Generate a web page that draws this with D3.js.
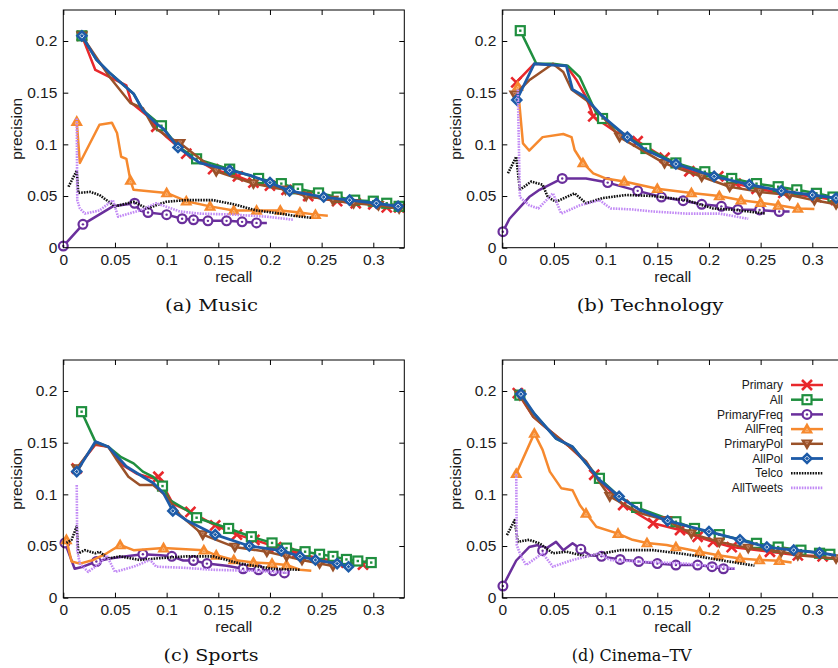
<!DOCTYPE html>
<html><head><meta charset="utf-8">
<script src="https://cdn.jsdelivr.net/npm/d3@7"></script>
<style>body{margin:0;background:#fff}svg{display:block}</style>
</head><body>
<svg id="chart" width="838" height="668"></svg>
<script>
// ---------- DATA ----------
const seriesNames = ["Primary","All","PrimaryFreq","AllFreq","PrimaryPol","AllPol","Telco","AllTweets"];
const xTicks = [0,0.05,0.1,0.15,0.2,0.25,0.3];
const yTicks = [0,0.05,0.1,0.15,0.2];
const xLabel = "recall", yLabel = "precision";
const captions = ["(a) Music","(b) Technology","(c) Sports","(d) Cinema–TV"];

// [recall, precision, marker?]
const musicPrimary = [[0.018,0.205,1],[0.031,0.172],[0.045,0.165],[0.061,0.157],[0.066,0.140],[0.081,0.128],[0.090,0.117,1],[0.100,0.107],[0.119,0.091,1],[0.145,0.076,1],[0.169,0.069,1],[0.184,0.063,1],[0.200,0.060,1],[0.216,0.056,1],[0.237,0.050,1],[0.265,0.045,1],[0.283,0.043,1],[0.300,0.042,1],[0.313,0.039,1],[0.325,0.039,1]];
const musicAll = [[0.018,0.205,1],[0.032,0.182],[0.045,0.169],[0.068,0.149],[0.077,0.133],[0.095,0.118,1],[0.111,0.098],[0.129,0.086,1],[0.161,0.076,1],[0.189,0.067,1],[0.211,0.062,1],[0.227,0.057,1],[0.247,0.053,1],[0.265,0.049,1],[0.282,0.046,1],[0.300,0.045,1],[0.313,0.043,1],[0.325,0.040,1]];
const musicPrimaryFreq = [[0,0.0016,1],[0.019,0.0226,1],[0.048,0.040],[0.069,0.043,1],[0.074,0.036],[0.082,0.034,1],[0.100,0.032,1],[0.115,0.028,1],[0.126,0.027,1],[0.140,0.026,1],[0.158,0.026,1],[0.173,0.025,1],[0.187,0.024,1],[0.197,0.024]];
const musicAllFreq = [[0.013,0.122,1],[0.016,0.082],[0.035,0.119],[0.047,0.121],[0.052,0.111],[0.056,0.088],[0.061,0.086],[0.065,0.065,1],[0.068,0.056],[0.100,0.053,1],[0.119,0.045,1],[0.142,0.040,1],[0.165,0.036,1],[0.187,0.036,1],[0.210,0.036,1],[0.229,0.034,1],[0.244,0.032,1],[0.256,0.031]];
const musicPrimaryPol = [[0.018,0.205,1],[0.045,0.165],[0.065,0.140],[0.077,0.135],[0.087,0.117],[0.100,0.108],[0.113,0.101,1],[0.148,0.074,1],[0.184,0.062,1],[0.215,0.056,1],[0.235,0.050,1],[0.261,0.046,1],[0.281,0.043,1],[0.305,0.041,1],[0.325,0.038,1]];
const musicAllPol = [[0.018,0.205,1],[0.032,0.182],[0.045,0.169],[0.068,0.149],[0.077,0.133],[0.090,0.120],[0.097,0.115],[0.111,0.097,1],[0.132,0.082],[0.161,0.075,1],[0.181,0.070],[0.200,0.063,1],[0.219,0.055,1],[0.252,0.049,1],[0.277,0.046,1],[0.303,0.043,1],[0.324,0.040,1]];
const musicTelco = [[0.005,0.059],[0.013,0.0745],[0.0145,0.053],[0.026,0.054],[0.035,0.051],[0.050,0.040],[0.068,0.0445],[0.081,0.038],[0.100,0.0445],[0.119,0.046],[0.145,0.046],[0.165,0.042],[0.187,0.036],[0.210,0.033],[0.229,0.030],[0.240,0.029]];
const musicAllTweets = [[0.013,0.125],[0.0135,0.046],[0.016,0.038],[0.021,0.033],[0.035,0.036],[0.048,0.046],[0.053,0.030],[0.074,0.036],[0.090,0.043],[0.113,0.035],[0.132,0.033],[0.165,0.032],[0.197,0.030],[0.223,0.027]];

const techPrimary = [[0.0135,0.160,1],[0.031,0.178],[0.062,0.176],[0.072,0.162],[0.081,0.146],[0.088,0.127,1],[0.110,0.112],[0.131,0.103,1],[0.157,0.087,1],[0.181,0.074,1],[0.209,0.069,1],[0.226,0.062,1],[0.246,0.057,1],[0.272,0.053,1],[0.304,0.049,1],[0.323,0.046,1]];
const techAll = [[0.0174,0.210,1],[0.033,0.178],[0.049,0.178],[0.0635,0.176],[0.075,0.165],[0.091,0.130],[0.097,0.125,1],[0.120,0.108],[0.139,0.096,1],[0.168,0.082,1],[0.196,0.0735,1],[0.222,0.067,1],[0.246,0.062,1],[0.267,0.059,1],[0.285,0.056,1],[0.304,0.0526,1],[0.320,0.049,1]];
const techPrimaryFreq = [[0.0006,0.0155,1],[0.007,0.028],[0.026,0.049],[0.036,0.056],[0.058,0.067,1],[0.081,0.067],[0.102,0.063,1],[0.131,0.055,1],[0.154,0.049,1],[0.175,0.0455,1],[0.193,0.042,1],[0.212,0.040,1],[0.228,0.037,1],[0.249,0.0365,1],[0.268,0.035,1],[0.278,0.035]];
const techAllFreq = [[0.015,0.156,1],[0.020,0.101],[0.026,0.094],[0.039,0.107],[0.059,0.110],[0.067,0.107],[0.070,0.0945],[0.078,0.082,1],[0.088,0.072],[0.100,0.067],[0.118,0.064,1],[0.150,0.057,1],[0.183,0.053,1],[0.210,0.050,1],[0.231,0.046,1],[0.250,0.0435,1],[0.267,0.041,1],[0.286,0.038,1],[0.302,0.0374]];
const techPrimaryPol = [[0.012,0.148,1],[0.026,0.162],[0.049,0.178],[0.059,0.170],[0.067,0.153],[0.081,0.143],[0.097,0.127],[0.1135,0.107,1],[0.157,0.0816,1],[0.193,0.0687,1],[0.220,0.059,1],[0.249,0.054,1],[0.278,0.051,1],[0.302,0.046,1],[0.323,0.042,1]];
const techAllPol = [[0.014,0.143,1],[0.031,0.178],[0.062,0.176],[0.068,0.153],[0.080,0.146],[0.096,0.128],[0.121,0.107,1],[0.139,0.0945],[0.168,0.081,1],[0.205,0.069,1],[0.239,0.061,1],[0.270,0.055,1],[0.300,0.051,1],[0.323,0.048,1]];
const techTelco = [[0.0055,0.072],[0.0135,0.088],[0.017,0.056],[0.028,0.064],[0.039,0.061],[0.044,0.049],[0.052,0.0445],[0.070,0.0526],[0.081,0.043],[0.097,0.048],[0.120,0.051],[0.146,0.050],[0.178,0.046],[0.204,0.038],[0.226,0.0365],[0.255,0.033]];
const techAllTweets = [[0.015,0.153],[0.017,0.049],[0.026,0.041],[0.035,0.038],[0.049,0.0526],[0.057,0.033],[0.075,0.041],[0.094,0.046],[0.105,0.038],[0.126,0.037],[0.146,0.035],[0.178,0.033],[0.210,0.033],[0.238,0.028]];

const sportsPrimary = [[0.013,0.125,1],[0.031,0.148],[0.0435,0.146],[0.058,0.128],[0.071,0.120],[0.087,0.1155],[0.092,0.117,1],[0.106,0.091],[0.123,0.083,1],[0.147,0.070,1],[0.168,0.061,1],[0.185,0.056,1],[0.206,0.049,1],[0.226,0.043,1],[0.248,0.038,1],[0.274,0.034,1],[0.290,0.032,1]];
const sportsAll = [[0.0177,0.180,1],[0.031,0.151],[0.0435,0.146],[0.056,0.136],[0.068,0.130],[0.077,0.122],[0.087,0.117],[0.096,0.108,1],[0.103,0.0945],[0.119,0.085],[0.129,0.0774,1],[0.145,0.072],[0.160,0.067,1],[0.182,0.059,1],[0.202,0.053,1],[0.216,0.048,1],[0.234,0.0445,1],[0.248,0.042,1],[0.261,0.040,1],[0.274,0.037,1],[0.285,0.0355,1],[0.298,0.034,1]];
const sportsPrimaryFreq = [[0.0016,0.053,1],[0.011,0.028],[0.019,0.030],[0.032,0.035,1],[0.045,0.038],[0.061,0.040],[0.077,0.042,1],[0.094,0.041],[0.105,0.040,1],[0.116,0.036],[0.126,0.036,1],[0.139,0.033,1],[0.158,0.031],[0.174,0.028,1],[0.189,0.027,1],[0.203,0.026,1],[0.214,0.024,1],[0.219,0.026]];
const sportsAllFreq = [[0.003,0.056,1],[0.008,0.035],[0.016,0.033],[0.029,0.0365],[0.042,0.043],[0.055,0.051,1],[0.068,0.046],[0.097,0.048,1],[0.136,0.046,1],[0.148,0.041,1],[0.165,0.0365,1],[0.184,0.034,1],[0.202,0.033,1],[0.216,0.0316,1],[0.229,0.027],[0.240,0.026]];
const sportsPrimaryPol = [[0.013,0.125,1],[0.031,0.149],[0.0435,0.146],[0.052,0.133],[0.063,0.117],[0.074,0.109],[0.087,0.109],[0.100,0.098],[0.113,0.080],[0.135,0.061,1],[0.166,0.049,1],[0.197,0.0445,1],[0.216,0.040,1],[0.231,0.0365,1],[0.248,0.033,1],[0.261,0.0306,1]];
const sportsAllPol = [[0.013,0.122,1],[0.031,0.151],[0.0435,0.146],[0.061,0.127],[0.077,0.117],[0.087,0.111],[0.097,0.101],[0.106,0.084,1],[0.119,0.075],[0.147,0.061,1],[0.180,0.050,1],[0.211,0.0455,1],[0.229,0.040,1],[0.244,0.0365,1],[0.265,0.033,1],[0.276,0.030,1]];
const sportsTelco = [[0.003,0.053],[0.008,0.056],[0.013,0.069],[0.0145,0.043],[0.021,0.046],[0.031,0.043],[0.035,0.0445],[0.0435,0.038],[0.055,0.040],[0.074,0.0365],[0.090,0.038],[0.119,0.040],[0.145,0.040],[0.171,0.033],[0.203,0.028],[0.229,0.027]];
const sportsAllTweets = [[0.013,0.109],[0.0135,0.046],[0.016,0.033],[0.024,0.025],[0.035,0.033],[0.042,0.041],[0.050,0.025],[0.068,0.030],[0.084,0.0365],[0.090,0.030],[0.116,0.029],[0.145,0.027],[0.184,0.026],[0.219,0.024]];

const cinemaPrimary = [[0.015,0.198,1],[0.030,0.175],[0.043,0.164],[0.065,0.146],[0.081,0.131],[0.089,0.119,1],[0.117,0.0897,1],[0.146,0.072,1],[0.172,0.0655,1],[0.189,0.059,1],[0.204,0.054,1],[0.222,0.049,1],[0.259,0.0445,1],[0.286,0.041,1],[0.310,0.040,1]];
const cinemaAll = [[0.017,0.196,1],[0.031,0.178],[0.052,0.154],[0.068,0.146],[0.081,0.130],[0.094,0.1155,1],[0.113,0.098],[0.130,0.0874,1],[0.168,0.0735,1],[0.186,0.067,1],[0.210,0.061,1],[0.246,0.0526,1],[0.267,0.049,1],[0.289,0.046,1],[0.307,0.043,1],[0.317,0.042,1]];
const cinemaPrimaryFreq = [[0.0006,0.0113,1],[0.0135,0.036],[0.026,0.049],[0.0345,0.051],[0.039,0.0455,1],[0.052,0.054],[0.059,0.046],[0.068,0.0526],[0.076,0.047,1],[0.085,0.041],[0.096,0.040,1],[0.114,0.037,1],[0.132,0.035,1],[0.150,0.033,1],[0.168,0.0316,1],[0.189,0.0316,1],[0.203,0.030,1],[0.214,0.028,1],[0.225,0.028]];
const cinemaAllFreq = [[0.0135,0.120,1],[0.031,0.159,1],[0.039,0.143],[0.046,0.122],[0.057,0.106],[0.068,0.104],[0.075,0.0897],[0.081,0.0816,1],[0.091,0.0687],[0.112,0.062,1],[0.126,0.056],[0.140,0.053,1],[0.159,0.051],[0.168,0.049,1],[0.191,0.0445,1],[0.209,0.041,1],[0.230,0.038,1],[0.249,0.0365,1],[0.268,0.0358,1],[0.280,0.034]];
const cinemaPrimaryPol = [[0.017,0.196,1],[0.030,0.175],[0.043,0.164],[0.065,0.146],[0.081,0.132],[0.094,0.112],[0.104,0.098,1],[0.133,0.082],[0.159,0.075,1],[0.183,0.062,1],[0.210,0.054,1],[0.238,0.048,1],[0.270,0.0445,1],[0.286,0.041,1],[0.323,0.038,1]];
const cinemaAllPol = [[0.018,0.197,1],[0.031,0.178],[0.052,0.154],[0.068,0.146],[0.081,0.130],[0.094,0.114],[0.113,0.098,1],[0.133,0.085],[0.160,0.0745,1],[0.181,0.0687],[0.200,0.064,1],[0.230,0.056,1],[0.256,0.049,1],[0.282,0.046,1],[0.307,0.0435,1],[0.323,0.041]];
const cinemaTelco = [[0.0045,0.0606],[0.012,0.075],[0.015,0.054],[0.026,0.056],[0.036,0.0526],[0.049,0.043],[0.062,0.0445],[0.081,0.040],[0.114,0.046],[0.146,0.046],[0.178,0.042],[0.210,0.0365],[0.244,0.031]];
const cinemaAllTweets = [[0.0135,0.120],[0.014,0.051],[0.018,0.040],[0.023,0.0316],[0.039,0.043],[0.049,0.030],[0.068,0.0365],[0.094,0.043],[0.104,0.0365],[0.130,0.035],[0.178,0.033],[0.210,0.030],[0.225,0.028]];

// ---------- STYLE / LAYOUT ----------
const colors = ["#e8282c","#1f8f3f","#6a2f9c","#f6892e","#9a5129","#1d5ba8","#111111","#c28af5"];
const markerTypes = ["x","square","circle","tri","dtri","diamond",null,null];
const dashes = [null,null,null,null,null,null,"1.6,1.1","1.6,1.1"];
const widths = [2.5,2.5,2.5,2.5,2.5,2.8,2.6,2.6];

const panelData = [
  [musicPrimary,musicAll,musicPrimaryFreq,musicAllFreq,musicPrimaryPol,musicAllPol,musicTelco,musicAllTweets],
  [techPrimary,techAll,techPrimaryFreq,techAllFreq,techPrimaryPol,techAllPol,techTelco,techAllTweets],
  [sportsPrimary,sportsAll,sportsPrimaryFreq,sportsAllFreq,sportsPrimaryPol,sportsAllPol,sportsTelco,sportsAllTweets],
  [cinemaPrimary,cinemaAll,cinemaPrimaryFreq,cinemaAllFreq,cinemaPrimaryPol,cinemaAllPol,cinemaTelco,cinemaAllTweets]
];
const panelPos = [[0,0],[439,0],[0,350],[439,350]];
const captionX = [211.5,650,211,631.7];
const captionW = [93,146.7,95,120];

const svg = d3.select("#chart");
const x = d3.scaleLinear().domain([0,0.33]).range([63.3,404.3]);
const y = d3.scaleLinear().domain([0,0.23]).range([247.7,10]);
const fmt = d3.format("~g");
const sans = "'Liberation Sans', Arial, Helvetica, sans-serif";

function drawMarker(g, type, color, cx, cy) {
  const s = 5;
  if (type === "x") {
    g.append("path").attr("d",`M${cx-s},${cy-s}L${cx+s},${cy+s}M${cx-s},${cy+s}L${cx+s},${cy-s}`)
      .attr("stroke",color).attr("stroke-width",2.6).attr("fill","none");
  } else if (type === "square") {
    g.append("rect").attr("x",cx-4.5).attr("y",cy-4.5).attr("width",9).attr("height",9)
      .attr("fill","#fff").attr("stroke",color).attr("stroke-width",2.2);
    g.append("rect").attr("x",cx-1.2).attr("y",cy-1.2).attr("width",2.4).attr("height",2.4).attr("fill",color);
  } else if (type === "circle") {
    g.append("circle").attr("cx",cx).attr("cy",cy).attr("r",4.4)
      .attr("fill","#fff").attr("stroke",color).attr("stroke-width",2.2);
    g.append("circle").attr("cx",cx).attr("cy",cy).attr("r",1.2).attr("fill",color);
  } else if (type === "tri") {
    g.append("path").attr("d",`M${cx},${cy-6.5}L${cx+6.2},${cy+4.3}L${cx-6.2},${cy+4.3}Z`).attr("fill",color);
    g.append("path").attr("d",`M${cx},${cy-0.5}L${cx+1.6},${cy+2.3}L${cx-1.6},${cy+2.3}Z`)
      .attr("fill","none").attr("stroke","#fbc48f").attr("stroke-width",0.7);
  } else if (type === "dtri") {
    g.append("path").attr("d",`M${cx},${cy+6.5}L${cx+6.2},${cy-4.3}L${cx-6.2},${cy-4.3}Z`).attr("fill",color);
    g.append("path").attr("d",`M${cx},${cy+0.5}L${cx+1.6},${cy-2.3}L${cx-1.6},${cy-2.3}Z`)
      .attr("fill","none").attr("stroke","#d19a7c").attr("stroke-width",0.7);
  } else if (type === "diamond") {
    g.append("path").attr("d",`M${cx},${cy-6.3}L${cx+6.3},${cy}L${cx},${cy+6.3}L${cx-6.3},${cy}Z`).attr("fill",color);
    g.append("path").attr("d",`M${cx},${cy-2.3}L${cx+2.3},${cy}L${cx},${cy+2.3}L${cx-2.3},${cy}Z`)
      .attr("fill","none").attr("stroke","#fff").attr("stroke-width",0.8);
  }
}

const line = d3.line().x(d => x(d[0])).y(d => y(d[1]));

panelData.forEach((series, pi) => {
  const g = svg.append("g").attr("transform",`translate(${panelPos[pi][0]},${panelPos[pi][1]})`);
  const [x0,x1] = x.range(), [y0,y1] = y.range();

  const bottom = g.append("g").attr("transform",`translate(0,${y0})`)
    .call(d3.axisBottom(x).tickValues(xTicks).tickFormat(fmt).tickSizeInner(-5).tickSizeOuter(0).tickPadding(6));
  const top = g.append("g").attr("transform",`translate(0,${y1})`)
    .call(d3.axisTop(x).tickValues(xTicks).tickFormat("").tickSizeInner(-5).tickSizeOuter(0));
  const left = g.append("g").attr("transform",`translate(${x0},0)`)
    .call(d3.axisLeft(y).tickValues(yTicks).tickFormat(fmt).tickSizeInner(-5).tickSizeOuter(0).tickPadding(6));
  const right = g.append("g").attr("transform",`translate(${x1},0)`)
    .call(d3.axisRight(y).tickValues(yTicks).tickFormat("").tickSizeInner(-5).tickSizeOuter(0));
  [bottom,top,left,right].forEach(a => {
    a.select(".domain").remove();
    a.selectAll("line").attr("stroke","#000").attr("stroke-width",1);
    a.selectAll("text").attr("fill","#1a1a1a").style("font-family",sans).style("font-size","15.5px");
  });

  series.forEach((data, si) => {
    const sg = g.append("g");
    const p = sg.append("path").attr("d", line(data)).attr("fill","none")
      .attr("stroke", colors[si]).attr("stroke-width", widths[si])
      .attr("stroke-linejoin","round");
    if (dashes[si]) p.attr("stroke-dasharray", dashes[si]);
    if (markerTypes[si]) data.filter(d => d[2]).forEach(d => drawMarker(sg, markerTypes[si], colors[si], x(d[0]), y(d[1])));
  });

  g.append("rect").attr("x",x0).attr("y",y1).attr("width",x1-x0).attr("height",y0-y1)
    .attr("fill","none").attr("stroke","#000").attr("stroke-width",1);

  g.append("text").attr("x",(x0+x1)/2).attr("y",281.5).attr("text-anchor","middle")
    .style("font-family",sans).style("font-size","15.5px").attr("fill","#1a1a1a").text(xLabel);
  g.append("text").attr("transform",`translate(22,${(y0+y1)/2}) rotate(-90)`).attr("text-anchor","middle")
    .style("font-family",sans).style("font-size","15.5px").attr("fill","#1a1a1a").text(yLabel);

  svg.append("text").attr("x",captionX[pi]).attr("y",panelPos[pi][1]+310.5).attr("text-anchor","middle")
    .attr("textLength",captionW[pi]).attr("lengthAdjust","spacingAndGlyphs")
    .style("font-family","'DejaVu Serif', 'Liberation Serif', serif").style("font-size","17px")
    .attr("fill","#111").text(captions[pi]);
});

// legend in panel (d)
const lg = svg.append("g");
seriesNames.forEach((name, i) => {
  const ly = 385 + i * 14.7;
  lg.append("text").attr("x",783).attr("y",ly+4.2).attr("text-anchor","end")
    .style("font-family",sans).style("font-size","12px").attr("fill","#1a1a1a").text(name);
  const l = lg.append("line").attr("x1",791).attr("x2",823).attr("y1",ly).attr("y2",ly)
    .attr("stroke",colors[i]).attr("stroke-width",widths[i]);
  if (dashes[i]) l.attr("stroke-dasharray",dashes[i]);
  if (markerTypes[i]) drawMarker(lg, markerTypes[i], colors[i], 807, ly);
});
</script>
</body></html>
